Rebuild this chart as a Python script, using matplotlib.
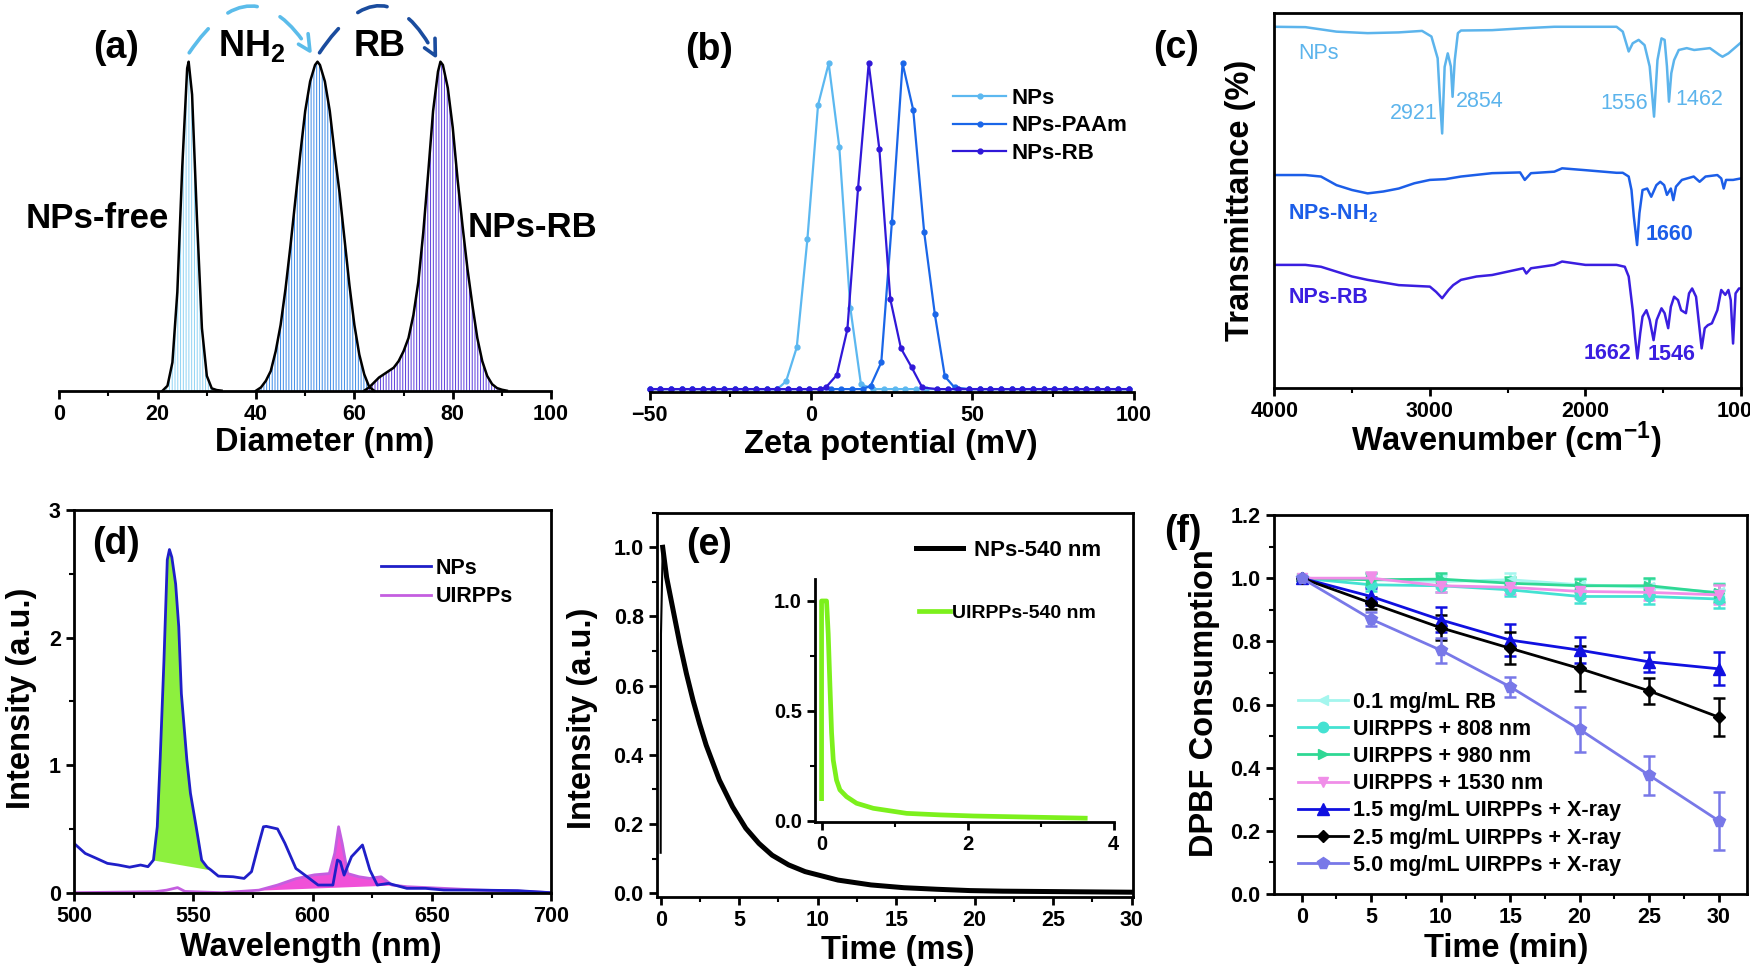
import numpy as np
import matplotlib.pyplot as plt
from matplotlib.patches import FancyArrowPatch
from matplotlib.ticker import MultipleLocator, FormatStrFormatter

# ---------------- data ----------------
# (a) DLS size distributions
dls_free_nm = [21, 22, 23, 24, 25, 26, 26.3, 27, 28, 29, 30, 31, 32, 33]
dls_free = [0.0, 0.015, 0.086, 0.30, 0.68, 0.98, 1.0, 0.90, 0.52, 0.19, 0.045, 0.007, 0.002, 0.0]
dls_nh2_nm = [40, 41, 42, 43, 44, 45, 46, 47, 48, 49, 50, 51, 52, 52.5, 53, 54, 55, 56,
              57, 58, 59, 60, 61, 62, 63, 64]
dls_nh2 = [0.0, 0.01, 0.03, 0.06, 0.12, 0.2, 0.31, 0.44, 0.58, 0.72, 0.85, 0.94, 0.99, 1.0,
           0.99, 0.94, 0.85, 0.72, 0.6, 0.46, 0.32, 0.2, 0.11, 0.05, 0.012, 0.0]
dls_rb_nm = [62, 63, 64, 65, 66, 67, 68, 69, 70, 71, 72, 73, 74, 75, 76, 77, 77.5, 78, 79,
             80, 81, 82, 83, 84, 85, 86, 87, 88, 89, 90, 91]
dls_rb = [0.0, 0.01, 0.025, 0.04, 0.05, 0.06, 0.07, 0.09, 0.12, 0.16, 0.23, 0.33, 0.48,
          0.66, 0.85, 0.97, 1.0, 0.99, 0.92, 0.8, 0.64, 0.5, 0.37, 0.26, 0.16, 0.09, 0.045,
          0.02, 0.008, 0.003, 0.0]

# (b) zeta potential
zeta_nps_mv = [-7.7, -4.4, -1.1, 2.2, 5.5, 8.8, 12.2, 15.5]
zeta_nps = [0.024, 0.128, 0.46, 0.872, 1.0, 0.742, 0.25, 0.015]
zeta_paam_mv = [18.5, 21.8, 25.1, 28.4, 31.7, 35.1, 38.4, 41.5, 44.5]
zeta_paam = [0.01, 0.082, 0.514, 1.0, 0.857, 0.481, 0.23, 0.039, 0.005]
zeta_rb_mv = [4.6, 8.0, 11.3, 14.6, 17.9, 21.2, 24.6, 27.9, 31.2, 34.5]
zeta_rb = [0.005, 0.043, 0.184, 0.616, 1.0, 0.737, 0.276, 0.125, 0.067, 0.005]
zeta_baseline_mv = np.arange(-50, 100.1, 3.3)

# (c) FTIR
ftir_nps_wn = [4000, 3800, 3600, 3400, 3200, 3050, 2990, 2950, 2935, 2921, 2905, 2885, 2865,
               2854, 2840, 2820, 2800, 2600, 2400, 2200, 2000, 1800, 1760, 1722, 1696, 1658,
               1620, 1587, 1559, 1537, 1511, 1491, 1476, 1463, 1448, 1430, 1400, 1349, 1301,
               1200, 1139, 1119, 1081, 1000]
ftir_nps = [96.4, 96.3, 95.1, 94.7, 94.9, 95.3, 93.8, 88.0, 76.8, 67.9, 85.7, 89.3, 85.8,
            77.7, 87.5, 94.7, 95.4, 95.5, 96.0, 96.4, 96.4, 96.4, 95.1, 89.8, 92.0, 92.9,
            91.5, 85.8, 72.4, 87.5, 93.3, 92.9, 85.8, 76.4, 84.0, 87.5, 90.2, 90.7, 90.2,
            90.7, 88.9, 88.4, 89.3, 92.2]
ftir_nh2_wn = [4000, 3900, 3800, 3700, 3600, 3500, 3400, 3300, 3200, 3100, 3000, 2900, 2800,
               2600, 2420, 2390, 2350, 2200, 2150, 2000, 1800, 1760, 1722, 1704, 1689, 1668,
               1653, 1633, 1603, 1577, 1544, 1519, 1494, 1476, 1451, 1435, 1418, 1380, 1304,
               1266, 1228, 1152, 1127, 1111, 1096, 1051, 1000]
ftir_nh2 = [56.8, 56.8, 56.8, 56.4, 54.1, 52.8, 51.9, 52.4, 53.2, 54.6, 55.5, 55.7, 56.4,
            57.3, 57.5, 55.5, 57.3, 57.7, 58.6, 58.1, 57.4, 57.4, 56.4, 52.8, 45.7, 38.1,
            46.6, 52.8, 53.2, 51.0, 54.1, 55.0, 54.1, 51.5, 53.2, 50.1, 53.7, 55.5, 56.4,
            55.0, 56.4, 56.8, 55.9, 53.2, 55.5, 55.5, 55.9]
ftir_rb_wn = [4000, 3900, 3800, 3700, 3600, 3500, 3400, 3300, 3200, 3100, 3000, 2960, 2921,
              2880, 2850, 2800, 2700, 2600, 2500, 2400, 2380, 2350, 2200, 2150, 2000, 1800,
              1747, 1722, 1696, 1681, 1666, 1648, 1633, 1608, 1587, 1562, 1542, 1511, 1491,
              1468, 1451, 1430, 1405, 1385, 1354, 1334, 1314, 1289, 1268, 1253, 1233, 1213,
              1187, 1152, 1127, 1101, 1081, 1066, 1051, 1035, 1013, 1000]
ftir_rb = [32.8, 32.8, 32.8, 32.3, 31.0, 29.7, 28.8, 28.1, 27.4, 27.2, 27.0, 25.6, 23.9,
           26.1, 27.4, 28.8, 29.7, 30.1, 31.0, 31.9, 30.5, 31.9, 32.8, 33.7, 32.8, 32.8,
           32.3, 29.7, 20.7, 13.6, 7.8, 14.5, 19.0, 20.7, 18.1, 12.7, 18.1, 21.2, 19.9,
           15.9, 21.6, 24.3, 23.4, 20.7, 19.9, 25.2, 26.5, 24.3, 16.3, 10.5, 15.9, 16.7,
           17.2, 20.7, 26.1, 24.8, 26.1, 23.4, 11.8, 25.2, 26.5, 26.5]

# (d) emission spectra
pl_nps_wl = [500, 504.7, 509.3, 514, 518.6, 523.3, 527.9, 531, 533.3, 534.9, 536.1, 537.7,
             539.1, 540, 541, 542.6, 543.9, 545, 547.3, 548.8, 551.2, 553.5, 555.8, 557.4,
             560.5, 566.7, 571.3, 574.4, 577.5, 579.4, 580.6, 585.3, 588.4, 593, 597.7,
             602.3, 608.5, 610.4, 611.6, 613.2, 616.3, 620.9, 624, 627.1, 631.8, 639.5,
             647.3, 655, 670.5, 686, 700]
pl_nps = [0.387, 0.308, 0.27, 0.23, 0.217, 0.2, 0.217, 0.204, 0.256, 0.517, 1.04, 1.82,
          2.61, 2.69, 2.63, 2.42, 2.085, 1.56, 1.04, 0.78, 0.517, 0.256, 0.2, 0.178, 0.13,
          0.125, 0.112, 0.165, 0.387, 0.517, 0.52, 0.5, 0.387, 0.19, 0.125, 0.06, 0.06,
          0.256, 0.243, 0.138, 0.282, 0.374, 0.178, 0.06, 0.073, 0.034, 0.034, 0.021, 0.02,
          0.016, 0.0]
pl_uirpps_wl = [500, 534, 538.8, 543.4, 546.5, 562, 577.5, 585.3, 593, 600.8, 607, 609.3,
                610.9, 612.4, 614.7, 619.4, 624, 628.7, 633.3, 639.5, 655, 670.5, 686, 700]
pl_uirpps = [0.0, 0.008, 0.02, 0.04, 0.01, 0.0, 0.02, 0.06, 0.11, 0.14, 0.15, 0.31, 0.517,
             0.387, 0.15, 0.125, 0.112, 0.125, 0.06, 0.047, 0.034, 0.02, 0.013, 0.0]

# (e) luminescence decay
decay_ms = [0.0, 0.02, 0.13, 0.38, 0.8, 1.22, 1.64, 2.06, 2.48, 2.9, 3.74, 4.58, 5.42, 6.26,
            7.1, 8.15, 9.2, 11.3, 13.4, 15.5, 17.6, 19.7, 21.8, 27.1, 30.0]
decay_nps = [0.117, 0.75, 1.0, 0.913, 0.817, 0.721, 0.635, 0.558, 0.49, 0.428, 0.327, 0.25,
             0.188, 0.144, 0.11, 0.082, 0.0625, 0.038, 0.024, 0.016, 0.0115, 0.0077, 0.006,
             0.004, 0.003]
decay_uirpps_ms = [0.0, 0.0, 0.068, 0.091, 0.114, 0.137, 0.16, 0.205, 0.251, 0.342, 0.479,
                   0.708, 1.164, 1.621, 2.08, 2.99, 3.61]
decay_uirpps = [0.1, 1.0, 1.0, 0.85, 0.62, 0.4, 0.275, 0.184, 0.14, 0.109, 0.079, 0.056,
                0.033, 0.026, 0.021, 0.015, 0.011]

# (f) DPBF consumption
dpbf_min = [0, 5, 10, 15, 20, 25, 30]
dpbf_labels = ["0.1 mg/mL RB", "UIRPPS + 808 nm", "UIRPPS + 980 nm", "UIRPPS + 1530 nm",
               "1.5 mg/mL UIRPPs + X-ray", "2.5 mg/mL UIRPPs + X-ray",
               "5.0 mg/mL UIRPPs + X-ray"]
dpbf_rb = [1.0, 0.995, 0.989, 0.995, 0.979, 0.971, 0.955]
dpbf_808 = [1.0, 0.979, 0.976, 0.963, 0.942, 0.942, 0.934]
dpbf_980 = [1.0, 0.995, 0.997, 0.984, 0.976, 0.976, 0.953]
dpbf_1530 = [1.0, 1.0, 0.976, 0.971, 0.958, 0.955, 0.947]
dpbf_x15 = [1.0, 0.942, 0.868, 0.804, 0.772, 0.735, 0.713]
dpbf_x25 = [1.0, 0.921, 0.843, 0.778, 0.714, 0.643, 0.56]
dpbf_x50 = [1.0, 0.87, 0.772, 0.656, 0.521, 0.376, 0.232]
err_low = [0.005, 0.02, 0.02, 0.02, 0.02, 0.025, 0.03]
err_x15 = [0.005, 0.026, 0.04, 0.051, 0.042, 0.032, 0.052]
err_x25 = [0.005, 0.018, 0.04, 0.05, 0.071, 0.04, 0.06]
err_x50 = [0.005, 0.023, 0.04, 0.032, 0.07, 0.061, 0.092]

# ---------------- style ----------------
plt.rcParams['font.family'] = ['Liberation Sans', 'DejaVu Sans']
plt.rcParams['font.weight'] = 'bold'
plt.rcParams['font.size'] = 15
plt.rcParams['mathtext.fontset'] = 'custom'
plt.rcParams['mathtext.rm'] = 'Liberation Sans:bold'
plt.rcParams['mathtext.bf'] = 'Liberation Sans:bold'
plt.rcParams['mathtext.it'] = 'Liberation Sans:bold'
plt.rcParams['mathtext.default'] = 'rm'
plt.rcParams['axes.linewidth'] = 2
plt.rcParams['hatch.linewidth'] = 1.3
plt.rcParams['hatch.color'] = 'white'
for a in ('xtick', 'ytick'):
    plt.rcParams[a + '.direction'] = 'out'
    plt.rcParams[a + '.major.width'] = 2
    plt.rcParams[a + '.major.size'] = 6
    plt.rcParams[a + '.minor.width'] = 1.5
    plt.rcParams[a + '.minor.size'] = 3.5
    plt.rcParams[a + '.major.pad'] = 3.5
    plt.rcParams[a + '.labelsize'] = 15.5

LAB = 23.5     # axis label size
PANEL = 27     # panel letter size

W, H = 1750, 971
fig = plt.figure(figsize=(W / 100, H / 100), dpi=100)


def add_ax(l, t, r, b):
    return fig.add_axes([l / W, 1 - b / H, (r - l) / W, (b - t) / H])


def ftext(x, y, s, **kw):
    kw.setdefault('ha', 'center')
    kw.setdefault('va', 'center')
    fig.text(x / W, 1 - y / H, s, **kw)


def legend_at(ax, handles, labels, x, y, fs, hl, pad, spacing):
    ax.legend(handles, labels, loc='upper left', bbox_to_anchor=(x / W, 1 - y / H),
              bbox_transform=fig.transFigure, frameon=False, borderpad=0,
              borderaxespad=0, fontsize=fs, handlelength=hl, handletextpad=pad,
              labelspacing=spacing, numpoints=1)


def bottom_only(ax):
    for s in ('left', 'top', 'right'):
        ax.spines[s].set_visible(False)
    ax.set_yticks([])


# ---------------- (a) ----------------
ax = add_ax(59.3, 61.7, 551.1, 390.7)
ax.set_xlim(0, 100)
ax.set_ylim(0, 1)
bottom_only(ax)
ax.xaxis.set_major_locator(MultipleLocator(20))
ax.xaxis.set_minor_locator(MultipleLocator(10))
for xs, ys, c in [(dls_free_nm, dls_free, '#8fd3f4'),
                  (dls_nh2_nm, dls_nh2, '#3d8be8'),
                  (dls_rb_nm, dls_rb, '#5a3cdc')]:
    ax.fill_between(xs, ys, 0, facecolor=c, edgecolor='white', hatch='||||||', linewidth=0)
    ax.plot(xs, ys, color='black', lw=1.8, clip_on=False)
arr1 = FancyArrowPatch((26.1, 1.02), (51.7, 1.015), connectionstyle='arc3,rad=-0.78',
                       arrowstyle='->', mutation_scale=28, color='#5bbcea', lw=2.6,
                       linestyle=(0, (8.5, 7)), clip_on=False)
arr2 = FancyArrowPatch((52.6, 1.02), (77.1, 1.0), connectionstyle='arc3,rad=-0.86',
                       arrowstyle='->', mutation_scale=28, color='#1a4c9e', lw=2.6,
                       linestyle=(0, (8.5, 7)), clip_on=False)
ax.add_patch(arr1)
ax.add_patch(arr2)
ftext(116, 48, '(a)', fontsize=PANEL)
ftext(252, 46, r'NH$_2$', fontsize=26)
ftext(380, 47, 'RB', fontsize=26)
ftext(97, 219, 'NPs-free', fontsize=25)
ftext(532, 227, 'NPs-RB', fontsize=25)
ftext(325, 442, 'Diameter (nm)', fontsize=LAB)

# ---------------- (b) ----------------
ax = add_ax(649.6, 66, 1133.6, 391.7)
ax.set_xlim(-50, 100)
ax.set_ylim(0, 1)
bottom_only(ax)
ax.xaxis.set_major_locator(MultipleLocator(50))
ax.xaxis.set_minor_locator(MultipleLocator(25))
handles = []
for xs, ys, c, lab in [(zeta_nps_mv, zeta_nps, '#5cb8f0', 'NPs'),
                       (zeta_paam_mv, zeta_paam, '#1a66e8', 'NPs-PAAm'),
                       (zeta_rb_mv, zeta_rb, '#3018d8', 'NPs-RB')]:
    base = [v for v in zeta_baseline_mv if v < min(xs) - 1.5 or v > max(xs) + 1.5]
    xa = np.array(list(base) + list(xs))
    ya = np.array([0.0] * len(base) + list(ys))
    order = np.argsort(xa)
    h, = ax.plot(xa[order], ya[order] + 0.008, '-o', color=c, lw=1.6, ms=3.5,
                 clip_on=False)
    handles.append(h)
legend_at(ax, handles, ['NPs', 'NPs-PAAm', 'NPs-RB'], 953, 87.5, 16, 2.4, 0.24, 0.31)
ftext(709, 50, '(b)', fontsize=PANEL)
ftext(891, 445, 'Zeta potential (mV)', fontsize=LAB)

# ---------------- (c) ----------------
ax = add_ax(1274.3, 13.3, 1741, 387.7)
ax.set_xlim(4000, 1000)
ax.set_ylim(0, 100)
ax.set_yticks([])
ax.xaxis.set_major_locator(MultipleLocator(1000))
ax.xaxis.set_minor_locator(MultipleLocator(500))
c_nps, c_nh2, c_rb = '#5cb4ec', '#1c5ee8', '#3a1ee0'
ax.plot(ftir_nps_wn, ftir_nps, color=c_nps, lw=1.8)
ax.plot(ftir_nh2_wn, ftir_nh2, color=c_nh2, lw=1.8)
ax.plot(ftir_rb_wn, ftir_rb, color=c_rb, lw=1.8)
light = dict(color=c_nps, fontsize=15.5, weight='medium', va='center')
ax.text(3715, 89.3, 'NPs', ha='center', **light)
ax.text(2950, 73.3, '2921', ha='right', **light)
ax.text(2831, 76.4, '2854', ha='left', **light)
ax.text(1598, 75.8, '1556', ha='right', **light)
ax.text(1425, 77.0, '1462', ha='left', **light)
ax.text(3911, 46.6, r'NPs-NH$_2$', color=c_nh2, fontsize=15.5, ha='left', va='center')
ax.text(1610, 40.8, '1660', color=c_nh2, fontsize=15.5, ha='left', va='center')
ax.text(3911, 24.0, 'NPs-RB', color=c_rb, fontsize=15.5, ha='left', va='center')
ax.text(1705, 9.2, '1662', color=c_rb, fontsize=15.5, ha='right', va='center')
ax.text(1603, 8.9, '1546', color=c_rb, fontsize=15.5, ha='left', va='center')
ftext(1176, 48, '(c)', fontsize=PANEL)
ftext(1241, 200, 'Transmittance (%)', fontsize=LAB, rotation=90)
ftext(1506, 440, r'Wavenumber (cm$^{-1}$)', fontsize=LAB)

# ---------------- (d) ----------------
ax = add_ax(74, 510, 551.2, 892.7)
ax.set_xlim(500, 700)
ax.set_ylim(0, 3)
ax.xaxis.set_major_locator(MultipleLocator(50))
ax.xaxis.set_minor_locator(MultipleLocator(25))
ax.yaxis.set_major_locator(MultipleLocator(1))
ax.yaxis.set_minor_locator(MultipleLocator(0.5))
wl = np.array(pl_nps_wl)
it = np.array(pl_nps)
m = (wl >= 533.3) & (wl <= 557.4)
chord = np.interp(wl[m], [wl[m][0], wl[m][-1]], [it[m][0], it[m][-1]])
ax.fill_between(wl[m], it[m], chord, color='#8df03e', lw=0)
uwl = np.array(pl_uirpps_wl)
uit = np.array(pl_uirpps)
m2 = (uwl >= 577.5) & (uwl <= 633.3)
chord2 = np.interp(uwl[m2], [uwl[m2][0], uwl[m2][-1]], [uit[m2][0], uit[m2][-1]])
ax.fill_between(uwl[m2], uit[m2], chord2, color='#f050d8', lw=0)
h2, = ax.plot(uwl, uit, color='#c45ee0', lw=2)
h1, = ax.plot(wl, it, color='#1f1fc8', lw=2)
legend_at(ax, [h1, h2], ['NPs', 'UIRPPs'], 381, 558, 15.5, 2.3, 0.26, 0.33)
ftext(116, 544, '(d)', fontsize=PANEL)
ftext(22, 698, 'Intensity (a.u.)', fontsize=LAB, rotation=90)
ftext(311, 947, 'Wavelength (nm)', fontsize=LAB)

# ---------------- (e) ----------------
ax = add_ax(656.9, 512.7, 1132.7, 896.7)
ax.set_xlim(-0.24, 30.07)
ax.set_ylim(-0.01, 1.1)
ax.xaxis.set_major_locator(MultipleLocator(5))
ax.xaxis.set_minor_locator(MultipleLocator(2.5))
ax.yaxis.set_major_locator(MultipleLocator(0.2))
ax.yaxis.set_minor_locator(MultipleLocator(0.1))
ax.yaxis.set_major_formatter(FormatStrFormatter('%.1f'))
ax.plot(decay_ms[:3], decay_nps[:3], color='black', lw=1.5)
he, = ax.plot(decay_ms[2:], decay_nps[2:], color='black', lw=3.6)
legend_at(ax, [he], ['NPs-540 nm'], 916, 540, 16, 2.1, 0.5, 0.1)
ftext(709, 545, '(e)', fontsize=PANEL)
ftext(582, 718, 'Intensity (a.u.)', fontsize=LAB, rotation=90)
ftext(898, 950, 'Time (ms)', fontsize=LAB)

ins = add_ax(815, 579, 1113.7, 821.7)
ins.set_xlim(-0.09, 4.0)
ins.set_ylim(-0.005, 1.1)
ins.spines['top'].set_visible(False)
ins.spines['right'].set_visible(False)
ins.xaxis.set_major_locator(MultipleLocator(2))
ins.xaxis.set_minor_locator(MultipleLocator(1))
ins.yaxis.set_major_locator(MultipleLocator(0.5))
ins.yaxis.set_minor_locator(MultipleLocator(0.25))
ins.yaxis.set_major_formatter(FormatStrFormatter('%.1f'))
ins.tick_params(labelsize=14.5)
hi, = ins.plot(decay_uirpps_ms, decay_uirpps, color='#7cf01c', lw=3.4)
legend_at(ins, [hi], ['UIRPPs-540 nm'], 919, 604, 14, 1.6, 0.1, 0.1)

# ---------------- (f) ----------------
ax = add_ax(1273.9, 515, 1746.5, 894)
ax.set_xlim(-2, 32)
ax.set_ylim(0, 1.2)
ax.xaxis.set_major_locator(MultipleLocator(5))
ax.xaxis.set_minor_locator(MultipleLocator(2.5))
ax.yaxis.set_major_locator(MultipleLocator(0.2))
ax.yaxis.set_minor_locator(MultipleLocator(0.1))
ax.yaxis.set_major_formatter(FormatStrFormatter('%.1f'))
series = [(dpbf_rb, err_low, '#a4f6ee', '<', 7.5),
          (dpbf_808, err_low, '#44e2d2', 'o', 7.5),
          (dpbf_980, err_low, '#2fd894', '>', 7.5),
          (dpbf_1530, err_low, '#f08ee8', 'v', 7.5),
          (dpbf_x15, err_x15, '#1010e0', '^', 8),
          (dpbf_x25, err_x25, '#000000', 'D', 6),
          (dpbf_x50, err_x50, '#7878e8', 'p', 8.5)]
fh = []
for ys, es, c, mk, ms in series:
    cont = ax.errorbar(dpbf_min, ys, yerr=es, color=c, marker=mk, ms=ms, lw=2,
                       elinewidth=1.8, capsize=4.5, capthick=1.8)
    fh.append(cont[0])
legend_at(ax, fh, dpbf_labels, 1298, 691.5, 15.5, 2.3, 0.24, 0.29)
ftext(1183, 532, '(f)', fontsize=PANEL)
ftext(1205, 703, 'DPBF Consumption', fontsize=LAB, rotation=90)
ftext(1506, 948, 'Time (min)', fontsize=LAB)

fig.savefig('out.png', dpi=100)
